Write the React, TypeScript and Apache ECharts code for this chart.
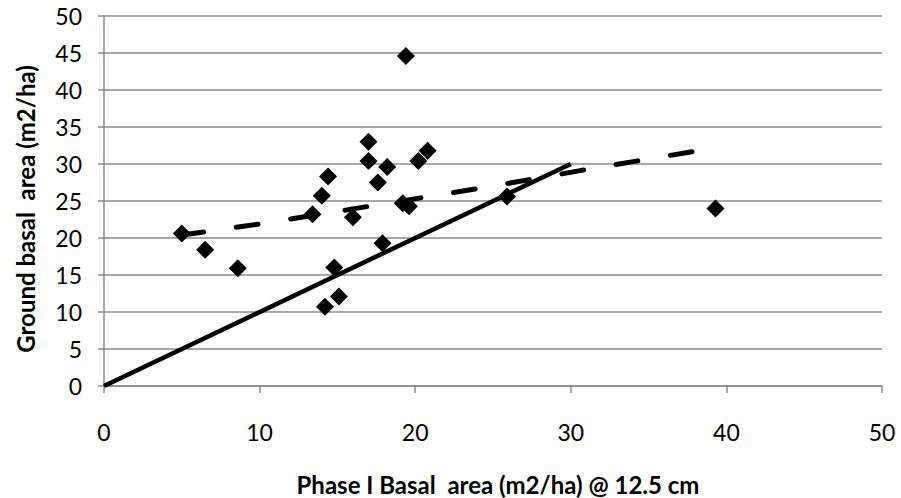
import React, { useEffect, useRef } from "react";
import * as echarts from "echarts";

const xTitle = "Phase I Basal  area (m2/ha) @ 12.5 cm";
const yTitle = "Ground basal  area (m2/ha)";

const pointsX = [5.0, 6.5, 8.6, 13.4, 14.0, 14.4, 14.2, 14.8, 15.1, 16.0, 17.0, 17.0, 17.6, 17.9, 18.2, 19.2, 19.6, 19.4, 20.2, 20.8, 25.9, 39.3];
const pointsY = [20.6, 18.4, 15.9, 23.2, 25.7, 28.3, 10.7, 16.0, 12.1, 22.8, 33.0, 30.4, 27.5, 19.3, 29.6, 24.7, 24.3, 44.6, 30.4, 31.8, 25.6, 24.0];

const oneToOneX = [0, 30];
const oneToOneY = [0, 30];

const trendX = [5.0, 10.0, 15.6, 24.4, 30.6, 39.3];
const trendY = [20.4, 21.9, 23.8, 26.8, 29.1, 32.2];

const FONT = "Lato";

export default function App() {
  const ref = useRef<HTMLDivElement>(null);
  useEffect(() => {
    if (!ref.current) return;
    const chart = echarts.init(ref.current, undefined, { renderer: "svg" });
    chart.setOption({
      animation: false,
      backgroundColor: "#ffffff",
      grid: { left: 104, right: 19, top: 16, bottom: 112 },
      xAxis: {
        type: "value",
        min: 0,
        max: 50,
        interval: 10,
        axisLine: { show: true, lineStyle: { color: "#8a8a8a", width: 1.5 } },
        axisTick: { show: true, length: 7, lineStyle: { color: "#8a8a8a", width: 1.5 } },
        axisLabel: { color: "#000", fontFamily: FONT, fontSize: 23, margin: 34 },
        splitLine: { show: false },
      },
      yAxis: {
        type: "value",
        min: 0,
        max: 50,
        interval: 5,
        axisLine: { show: true, lineStyle: { color: "#8a8a8a", width: 1.5 } },
        axisTick: { show: true, length: 6, lineStyle: { color: "#8a8a8a", width: 1.5 } },
        axisLabel: { color: "#000", fontFamily: FONT, fontSize: 23, margin: 22 },
        splitLine: { show: true, lineStyle: { color: "#8a8a8a", width: 1.5 } },
      },
      graphic: [
        {
          type: "text",
          x: 498,
          y: 484,
          style: {
            text: xTitle,
            fontFamily: FONT,
            fontWeight: "bold",
            fontSize: 24,
            fill: "#000",
            textAlign: "center",
            textVerticalAlign: "middle",
          },
        },
        {
          type: "text",
          x: 25,
          y: 209,
          rotation: Math.PI / 2,
          style: {
            text: yTitle,
            fontFamily: FONT,
            fontWeight: "bold",
            fontSize: 24,
            fill: "#000",
            textAlign: "center",
            textVerticalAlign: "middle",
          },
        },
      ],
      series: [
        {
          type: "line",
          data: oneToOneX.map((x, i) => [x, oneToOneY[i]]),
          showSymbol: false,
          symbol: "none",
          lineStyle: { color: "#000", width: 4.5 },
          z: 3,
        },
        {
          type: "line",
          data: trendX.map((x, i) => [x, trendY[i]]),
          showSymbol: false,
          symbol: "none",
          smooth: false,
          lineStyle: { color: "#000", width: 5, type: [22, 33], cap: "round" },
          z: 3,
        },
        {
          type: "scatter",
          data: pointsX.map((x, i) => [x, pointsY[i]]),
          symbol: "diamond",
          symbolSize: 18,
          itemStyle: { color: "#000", opacity: 1 },
          z: 4,
        },
      ],
    });
    return () => chart.dispose();
  }, []);
  return <div ref={ref} style={{ width: 901, height: 498, position: "absolute", left: 0, top: 0 }} />;
}
